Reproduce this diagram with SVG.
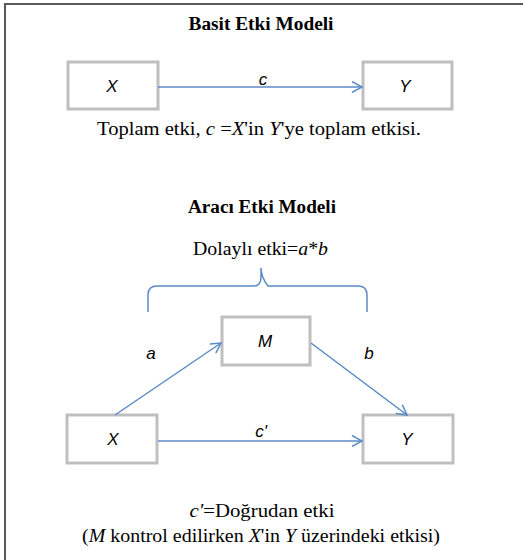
<svg xmlns="http://www.w3.org/2000/svg" width="523" height="560" viewBox="0 0 523 560">
<style>
.box{fill:#fff;stroke:#bfbfbf;stroke-width:3}
.lbl{font-family:"Liberation Sans",Arial,sans-serif;font-style:italic;font-size:17px;text-anchor:middle;fill:#000}
.title{font-family:"Liberation Serif","Times New Roman",serif;font-weight:bold;font-size:18px;text-anchor:middle;fill:#000}
.cap{font-family:"Liberation Serif","Times New Roman",serif;font-size:18px;text-anchor:middle;fill:#000}
.it{font-style:italic}
.conn{fill:none;stroke:#5b8ac6;stroke-width:1.5}
</style>
<defs>
<marker id="ah" viewBox="0 0 12 12" refX="11" refY="6" markerWidth="12" markerHeight="12" markerUnits="userSpaceOnUse" orient="auto">
<path d="M1,0.5 L11,6 L1,11.5" fill="none" stroke="#5b8ac6" stroke-width="1.5"/>
</marker>
</defs>
<rect width="523" height="560" fill="#fff"/>
<path d="M5,560 V4 H523" fill="none" stroke="#595959" stroke-width="2"/>

<text class="title" x="261" y="30" textLength="145" lengthAdjust="spacingAndGlyphs">Basit Etki Modeli</text>

<g id="X1"><rect class="box" x="68" y="62" width="90" height="47"/><text class="lbl" x="112" y="92">X</text></g>
<g id="Y1"><rect class="box" x="363" y="62" width="89" height="47"/><text class="lbl" x="405" y="92">Y</text></g>

<text class="cap" x="259" y="135" textLength="324" lengthAdjust="spacingAndGlyphs">Toplam etki, <tspan class="it">c</tspan> =<tspan class="it">X</tspan>'in <tspan class="it">Y</tspan>'ye toplam etkisi.</text>

<text class="title" x="262" y="213" textLength="148" lengthAdjust="spacingAndGlyphs">Aracı Etki Modeli</text>
<text class="cap" x="260.5" y="255" textLength="135" lengthAdjust="spacingAndGlyphs">Dolaylı etki=<tspan class="it">a</tspan>*<tspan class="it">b</tspan></text>

<g id="M"><rect class="box" x="222" y="317" width="88" height="48"/><text class="lbl" x="265" y="347">M</text></g>
<g id="X2"><rect class="box" x="67" y="415" width="90" height="48"/><text class="lbl" x="113" y="445">X</text></g>
<g id="Y2"><rect class="box" x="363" y="415" width="90" height="48"/><text class="lbl" x="407" y="445">Y</text></g>

<g id="connectors">
<line class="conn" x1="158" y1="87" x2="362" y2="87" marker-end="url(#ah)"/>
<text class="lbl" x="263" y="85">c</text>
<path class="conn" d="M148,312 V295 Q148,286 157,286 H254 Q261,286 261,277 V268 Q261,277 268,286 H358 Q367,286 367,295 V312"/>
<line class="conn" x1="115" y1="415" x2="221" y2="343" marker-end="url(#ah)"/>
<text class="lbl" x="151" y="359">a</text>
<line class="conn" x1="311" y1="343" x2="407" y2="415" marker-end="url(#ah)"/>
<text class="lbl" x="369" y="359">b</text>
<line class="conn" x1="158" y1="441" x2="362" y2="441" marker-end="url(#ah)"/>
<text class="lbl" x="261" y="437">c'</text>
</g>

<text class="cap" x="262" y="517" textLength="145" lengthAdjust="spacingAndGlyphs"><tspan class="it">c'</tspan>=Doğrudan etki</text>
<text class="cap" x="261" y="542" textLength="358" lengthAdjust="spacingAndGlyphs">(<tspan class="it">M</tspan> kontrol edilirken <tspan class="it">X</tspan>'in <tspan class="it">Y</tspan> üzerindeki etkisi)</text>
</svg>
